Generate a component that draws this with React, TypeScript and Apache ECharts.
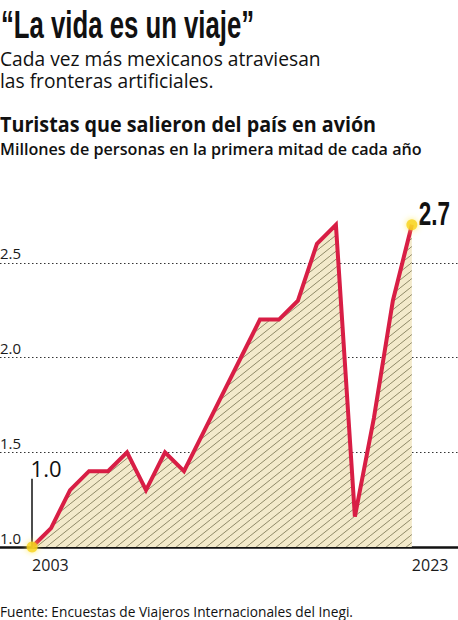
import React, { useEffect, useRef } from "react";
import * as echarts from "echarts";

const years = [2003, 2004, 2005, 2006, 2007, 2008, 2009, 2010, 2011, 2012, 2013, 2014, 2015, 2016, 2017, 2018, 2019, 2020, 2021, 2022, 2023];
const travelers = [1.0, 1.1, 1.3, 1.4, 1.4, 1.5, 1.3, 1.5, 1.4, 1.6, 1.8, 2.0, 2.2, 2.2, 2.3, 2.6, 2.7, 1.16, 1.68, 2.3, 2.7];
const xLabelYears = [2003, 2023];
const yTicks = { min: 1.0, max: 3.0, step: 0.5 };
const startMarkerTop = 1.36;

const headline = "\u201cLa vida es un viaje\u201d";
const deck = ["Cada vez más mexicanos atraviesan", "las fronteras artificiales."];
const chartTitle = "Turistas que salieron del país en avión";
const chartSubtitle = "Millones de personas en la primera mitad de cada año";
const source = "Fuente: Encuestas de Viajeros Internacionales del Inegi.";

function makeHatch(): HTMLCanvasElement {
  const c = document.createElement("canvas");
  c.width = 10;
  c.height = 8;
  const ctx = c.getContext("2d")!;
  ctx.fillStyle = "#f3eacb";
  ctx.fillRect(0, 0, 10, 8);
  ctx.strokeStyle = "#8f8a68";
  ctx.lineWidth = 1;
  for (const off of [-10, 0, 10]) {
    ctx.beginPath();
    ctx.moveTo(off, 8);
    ctx.lineTo(off + 10, 0);
    ctx.stroke();
  }
  return c;
}

export default function App() {
  const ref = useRef<HTMLDivElement>(null);
  useEffect(() => {
    document.body.style.margin = "0";
    if (!ref.current) return;
    const chart = echarts.init(ref.current, undefined, { renderer: "svg" });
    const last = years.length - 1;
    const sans = "'Open Sans', 'Noto Sans', sans-serif";
    const condensed = "bold 34px 'Liberation Sans', sans-serif";
    const headerGraphics: any[] = [
      {
        type: "text",
        x: 1,
        y: 5,
        scaleX: 0.66,
        style: { text: headline, font: "bold 39px 'Liberation Sans', sans-serif", fill: "#111" },
      },
      {
        type: "text",
        x: 0,
        y: 47,
        scaleX: 0.96,
        style: { text: deck.join("\n"), font: `20px ${sans}`, lineHeight: 22, fill: "#111" },
      },
      {
        type: "text",
        x: 0,
        y: 113,
        scaleX: 0.94,
        style: { text: chartTitle, font: `bold 21px ${sans}`, fill: "#111" },
      },
      {
        type: "text",
        x: 0,
        y: 140,
        scaleX: 0.95,
        style: { text: chartSubtitle, font: `600 17px ${sans}`, fill: "#111" },
      },
      {
        type: "text",
        x: 0,
        y: 604,
        scaleX: 0.98,
        style: { text: source, font: `14px ${sans}`, fill: "#111" },
      },
    ];
    chart.setOption({
      animation: false,
      grid: { left: 0, right: 0, top: 168, bottom: 73, outerBoundsMode: "none" },
      xAxis: {
        type: "value",
        min: 2001.31,
        max: 2025.43,
        splitLine: { show: false },
        axisTick: { show: false },
        axisLine: { show: true, lineStyle: { color: "#111", width: 2.5 } },
        axisLabel: {
          customValues: xLabelYears,
          align: "left",
          margin: 10,
          fontSize: 16,
          color: "#1a1a1a",
          fontFamily: sans,
          formatter: (v: number) => String(v),
        },
      },
      yAxis: {
        type: "value",
        min: yTicks.min,
        max: yTicks.max,
        interval: yTicks.step,
        axisLine: { show: false },
        axisTick: { show: false },
        splitLine: {
          show: true,
          showMinLine: false,
          showMaxLine: false,
          lineStyle: { type: [1.5, 2.5], color: "#333", width: 1.2 },
        },
        axisLabel: {
          inside: true,
          margin: 0,
          verticalAlign: "bottom",
          padding: [0, 0, 2, 0],
          showMaxLabel: false,
          fontSize: 15,
          color: "#1a1a1a",
          fontFamily: sans,
          formatter: (v: number) => v.toFixed(1),
        },
      },
      series: [
        {
          type: "line",
          data: years.map((y, i) => [y, travelers[i]]),
          symbol: "none",
          z: 3,
          lineStyle: { color: "#d81e45", width: 4, join: "miter", miterLimit: 10 },
          areaStyle: { color: { image: makeHatch(), repeat: "repeat" }, opacity: 1, origin: "start" },
          markLine: {
            silent: true,
            symbol: ["none", "none"],
            label: { show: false },
            lineStyle: { color: "#111", width: 1.5, type: "solid" },
            data: [[{ coord: [years[0], travelers[0]] }, { coord: [years[0], startMarkerTop] }]],
          },
        },
        {
          type: "scatter",
          z: 5,
          data: [[years[0], travelers[0]], [years[last], travelers[last]]],
          symbolSize: 11,
          itemStyle: { color: "#f7d217", shadowBlur: 6, shadowColor: "#ffe94d" },
          markPoint: {
            symbol: "circle",
            symbolSize: 1,
            itemStyle: { color: "transparent" },
            data: [
              {
                coord: [years[0], startMarkerTop],
                value: travelers[0],
                label: {
                  show: true,
                  position: "right",
                  distance: -2,
                  verticalAlign: "bottom",
                  fontSize: 22,
                  color: "#111",
                  fontFamily: sans,
                  formatter: (p: any) => Number(p.value).toFixed(1),
                },
              },
            ],
          },
        },
      ],
      graphic: headerGraphics,
    });
    const [ex, ey] = chart.convertToPixel({ gridIndex: 0 }, [years[last], travelers[last]]) as number[];
    chart.setOption({
      graphic: [
        ...headerGraphics,
        {
          type: "text",
          x: ex + 7,
          y: ey - 29,
          scaleX: 0.66,
          style: { text: travelers[last].toFixed(1), font: condensed, fill: "#111" },
        },
      ],
    });
    return () => chart.dispose();
  }, []);
  return <div ref={ref} style={{ width: 458, height: 620 }} />;
}
